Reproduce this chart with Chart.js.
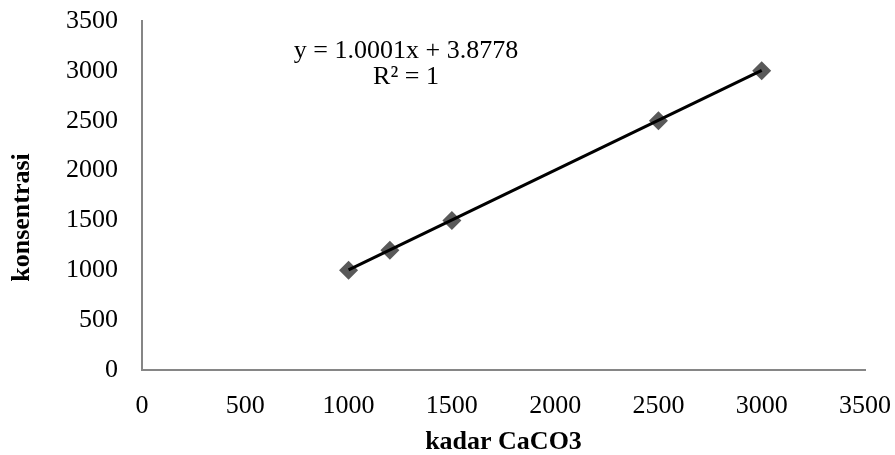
<!DOCTYPE html>
<html>
<head>
<meta charset="utf-8">
<script src="https://cdn.jsdelivr.net/npm/chart.js@4"></script>
<style>
  body { margin: 0; background: #fff; }
  #wrap { width: 895px; height: 455px; }
</style>
</head>
<body>
<div id="wrap"><canvas id="chart"></canvas></div>
<script>
// data
const kadar = [1000, 1200, 1500, 2500, 3000];
const konsentrasi = [1000, 1200, 1500, 2500, 3000];
const xTicks = [0, 500, 1000, 1500, 2000, 2500, 3000, 3500];
const yTicks = [0, 500, 1000, 1500, 2000, 2500, 3000, 3500];
const slope = 1.0001;
const intercept = 3.8778;
const eqLines = ["y = 1.0001x + 3.8778", "R² = 1"];
const xTitle = "kadar CaCO3";
const yTitle = "konsentrasi";

const points = kadar.map((x, i) => ({ x: x, y: konsentrasi[i] }));
const xMin = Math.min(...kadar), xMax = Math.max(...kadar);
const trend = [xMin, xMax].map(x => ({ x: x, y: slope * x + intercept }));

const font = "'Liberation Serif', 'Times New Roman', serif";

// equation box and the rotated y title
const labels = {
    id: "labels",
    afterDraw(chart) {
        const ctx = chart.ctx;
        const sx = chart.scales.x, sy = chart.scales.y;
        ctx.save();
        ctx.font = "26px " + font;
        ctx.fillStyle = "#000";
        ctx.textAlign = "center";
        ctx.textBaseline = "middle";
        ctx.fillText(eqLines[0], sx.getPixelForValue(1278), sy.getPixelForValue(3200));
        ctx.fillText(eqLines[1], sx.getPixelForValue(1278), sy.getPixelForValue(2940));

        ctx.font = "bold 26px " + font;
        ctx.translate(22, (chart.chartArea.top + chart.chartArea.bottom) / 2 + 22);
        ctx.rotate(-Math.PI / 2);
        ctx.fillText(yTitle, 0, 0);
        ctx.restore();
    }
};

new Chart(document.getElementById("chart"), {
    type: "scatter",
    data: {
        datasets: [{
            label: "konsentrasi",
            data: points,
            pointStyle: "rectRot",
            pointRadius: 9.5,
            pointHoverRadius: 9.5,
            backgroundColor: "#595959",
            borderColor: "#595959",
            borderWidth: 0,
            order: 2
        }, {
            label: "trend",
            type: "line",
            data: trend,
            borderColor: "#000",
            borderWidth: 3,
            pointRadius: 0,
            fill: false,
            order: 1
        }]
    },
    options: {
        responsive: true,
        maintainAspectRatio: false,
        animation: false,
        layout: { padding: { top: 21, right: 30, left: 0, bottom: 0 } },
        plugins: {
            legend: { display: false },
            tooltip: { enabled: false }
        },
        scales: {
            x: {
                type: "linear",
                min: 0,
                max: 3500,
                afterBuildTicks: s => { s.ticks = xTicks.map(v => ({ value: v })); },
                afterFit: s => {
                    s.height = 85;
                    s.paddingLeft = 0;
                    s.paddingRight = 0;
                },
                grid: { display: false, drawTicks: false },
                border: { display: true, color: "#868686", width: 2 },
                ticks: {
                    color: "#000",
                    font: { family: font, size: 26 },
                    padding: 21,
                    maxRotation: 0,
                    callback: v => String(v)
                },
                title: {
                    display: true,
                    text: xTitle,
                    color: "#000",
                    font: { family: font, size: 26, weight: "bold" },
                    padding: { top: 0, bottom: -3 }
                }
            },
            y: {
                type: "linear",
                min: 0,
                max: 3500,
                afterBuildTicks: s => { s.ticks = yTicks.map(v => ({ value: v })); },
                afterFit: s => {
                    s.width = 142;
                    s.paddingTop = 0;
                    s.paddingBottom = 0;
                },
                grid: { display: false, drawTicks: false },
                border: { display: true, color: "#868686", width: 2 },
                ticks: {
                    color: "#000",
                    font: { family: font, size: 26 },
                    padding: 24,
                    callback: v => String(v)
                }
            }
        }
    },
    plugins: [labels]
});
</script>
</body>
</html>
